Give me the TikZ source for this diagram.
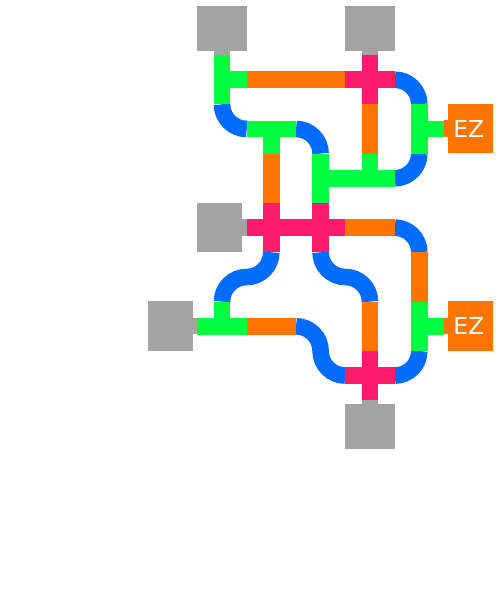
\documentclass[tikz,border=0pt]{standalone}
\usepackage{fontspec}
\setmainfont{DejaVu Sans}
\definecolor{tgray}{HTML}{A3A3A3}
\definecolor{tgreen}{HTML}{00FF40}
\definecolor{torange}{HTML}{FF7500}
\definecolor{tblue}{HTML}{006CFF}
\definecolor{tpink}{HTML}{FF1A6C}
\tikzset{
  track/.style={line width=16.6pt,line cap=butt,line join=miter},
  greent/.style={track,draw=tgreen},
  oranget/.style={track,draw=torange},
  bluet/.style={track,draw=tblue},
  pinkt/.style={track,draw=tpink},
  grayt/.style={track,draw=tgray},
  port/.style={draw=none,fill=tgray,inner sep=0pt,outer sep=0pt},
  ez/.style={draw=none,fill=torange,inner sep=0pt,outer sep=0pt,minimum width=45.3pt,minimum height=49.2pt,text=white,font=\fontsize{23.4}{23.4}\selectfont},
}
\def\cA{222} \def\cB{271.3} \def\cC{320.6} \def\cD{370} \def\cE{419.3}
\def\rA{79.7} \def\rB{129} \def\rC{178.3} \def\rD{227.6} \def\rE{277} \def\rF{326.3} \def\rG{375.6}
\def\xA{197.4} \def\xB{246.7} \def\xC{296} \def\xD{345.3} \def\xE{394.7} \def\xF{444}
\def\yA{55} \def\yB{104.3} \def\yC{153.6} \def\yD{203} \def\yE{252.3} \def\yF{301.6} \def\yG{351} \def\yH{400}
\def\k{13.6}
\begin{document}
\begin{tikzpicture}[x=1pt,y=-1pt]
\useasboundingbox (0,0) rectangle (495,599);
\node[port,minimum width=49.4pt,minimum height=45pt] (g1) at (222,28.2) {};
\node[port,minimum width=49.4pt,minimum height=45pt] (g2) at (370,28.2) {};
\node[port,minimum width=45pt,minimum height=49.3pt] (g3) at (219.8,227.6) {};
\node[port,minimum width=45.3pt,minimum height=49.4pt] (g4) at (170.7,326) {};
\node[port,minimum width=49.4pt,minimum height=45pt] (g5) at (370,426.5) {};
\node[ez] (e1) at (470.7,128.8) {\hspace*{-4pt}\raisebox{-2.5pt}{EZ}};
\node[ez] (e2) at (470.7,326) {\hspace*{-4pt}\raisebox{-2.5pt}{EZ}};
\draw[grayt] (g1.south) -- ++(0,4.5);
\draw[grayt] (g2.south) -- ++(0,4.5);
\draw[grayt] (g3.east) -- ++(4.6,0);
\draw[grayt] (g4.east) -- ++(4.2,0);
\draw[grayt] (g5.north) -- ++(0,-4.2);
\draw[oranget] (e1.west) -- ++(-4.2,0);
\draw[oranget] (e2.west) -- ++(-4.2,0);
\draw[bluet] (\xE,\rA) .. controls +(\k,0) and +(0,-\k) .. (\cE,\yB);
\draw[bluet] (\cE,\yC) .. controls +(0,\k) and +(\k,0) .. (\xE,\rC);
\draw[bluet] (\cA,\yB) .. controls +(0,\k) and +(-\k,0) .. (\xB,\rB);
\draw[bluet] (\xC,\rB) .. controls +(\k,0) and +(0,-\k) .. (\cC,\yC);
\draw[bluet] (\xE,\rD) .. controls +(\k,0) and +(0,-\k) .. (\cE,\yE);
\draw[bluet] (\cE,\yG) .. controls +(0,\k) and +(\k,0) .. (\xE,\rG);
\draw[bluet] (\cC,\yE) .. controls +(0,\k) and +(-\k,0) .. (\xD,\rE) .. controls +(\k,0) and +(0,-\k) .. (\cD,\yF);
\draw[bluet] (\cB,\yE) .. controls +(0,\k) and +(\k,0) .. (\xB,\rE) .. controls +(-\k,0) and +(0,-\k) .. (\cA,\yF);
\draw[bluet] (\xC,\rF) .. controls +(\k,0) and +(0,-\k) .. (\cC,\yG) .. controls +(0,\k) and +(-\k,0) .. (\xD,\rG);
\draw[oranget] (\xB,\rA) -- (\xD,\rA);
\draw[oranget] (\cD,\yB) -- (\cD,\yC);
\draw[oranget] (\cB,\yC) -- (\cB,\yD);
\draw[oranget] (\xD,\rD) -- (\xE,\rD);
\draw[oranget] (\cE,\yE) -- (\cE,\yF);
\draw[oranget] (\cD,\yF) -- (\cD,\yG);
\draw[oranget] (\xB,\rF) -- (\xC,\rF);
\draw[greent] (\cA,\yA) -- (\cA,\yB);
\draw[greent] (\cA,\rA) -- (\xB,\rA);
\draw[greent] (\xB,\rB) -- (\xC,\rB);
\draw[greent] (\cB,\rB) -- (\cB,\yC);
\draw[greent] (\cE,\yB) -- (\cE,\yC);
\draw[greent] (\cE,\rB) -- (\xF,\rB);
\draw[greent] (\cD,\yC) -- (\cD,\rC);
\draw[greent] (\cC,\rC) -- (\xE,\rC);
\draw[greent] (\cC,\yC) -- (\cC,\yD);
\draw[greent] (\cE,\yF) -- (\cE,\yG);
\draw[greent] (\cE,\rF) -- (\xF,\rF);
\draw[greent] (\cA,\yF) -- (\cA,\rF);
\draw[greent] (\xA,\rF) -- (\xB,\rF);
\draw[pinkt] (\xD,\rA) -- (\xE,\rA);
\draw[pinkt] (\cD,\yA) -- (\cD,\yB);
\draw[pinkt] (\xB,\rD) -- (\xD,\rD);
\draw[pinkt] (\cB,\yD) -- (\cB,\yE);
\draw[pinkt] (\cC,\yD) -- (\cC,\yE);
\draw[pinkt] (\xD,\rG) -- (\xE,\rG);
\draw[pinkt] (\cD,\yG) -- (\cD,\yH);
\end{tikzpicture}
\end{document}
